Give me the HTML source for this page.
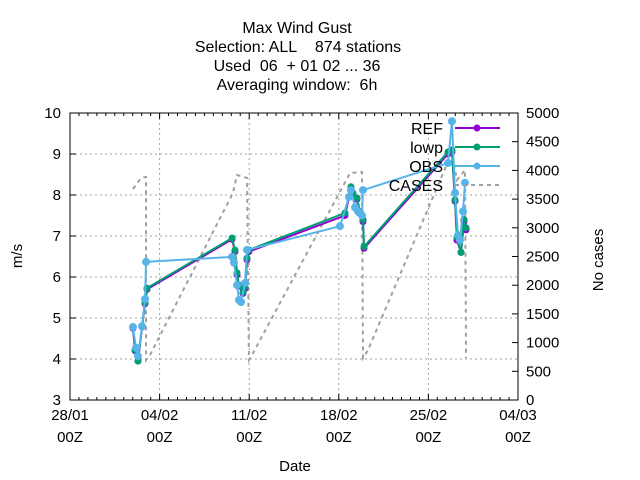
<!DOCTYPE html>
<html><head><meta charset="utf-8"><style>
body{margin:0;background:#fff}
svg{display:block;font-family:"Liberation Sans",sans-serif}
</style></head><body>
<svg id="chart" width="640" height="480">
<g id="title" font-size="16" text-anchor="middle" fill="#000">
<text x="297" y="33">Max Wind Gust</text>
<text x="298" y="52">Selection: ALL&#160;&#160;&#160;&#160;874 stations</text>
<text x="297" y="71">Used&#160;&#160;06&#160;&#160;+ 01 02 ... 36</text>
<text x="297" y="90">Averaging window:&#160;&#160;6h</text>
</g>
<text x="22" y="256" font-size="15" text-anchor="middle" transform="rotate(-90 22 256)">m/s</text>
<text x="603" y="260" font-size="15" text-anchor="middle" transform="rotate(-90 603 260)">No cases</text>
<text x="295" y="471" font-size="15" text-anchor="middle">Date</text>
<g id="grid"></g><g id="axes"></g><g id="series"></g><g id="legend"></g>
</svg>
<script>
// x values are days since 28/01 00Z
const xTickLabels=[["28/01","00Z"],["04/02","00Z"],["11/02","00Z"],["18/02","00Z"],["25/02","00Z"],["04/03","00Z"]];
const yTicks=[3,4,5,6,7,8,9,10];
const y2Ticks=[0,500,1000,1500,2000,2500,3000,3500,4000,4500,5000];
const lowpDays=[4.92,5.08,5.31,5.63,5.86,6.02,12.66,12.89,13.05,13.2,13.52,13.67,13.83,13.98,21.48,21.95,22.11,22.42,22.66,22.89,22.97,29.53,29.84,30.08,30.23,30.55,30.78,30.94];
const lowpVals=[4.78,4.22,3.95,4.8,5.37,5.73,6.95,6.66,6.1,5.8,5.63,5.76,6.46,6.66,7.56,8.2,8.05,7.93,7.6,7.4,6.74,9.05,9.1,7.88,6.97,6.6,7.4,7.2];
const refVals=[4.75,4.2,3.95,4.78,5.35,5.7,6.92,6.62,6.05,5.78,5.6,5.72,6.42,6.62,7.5,8.15,8.0,7.9,7.55,7.35,6.7,9.0,9.05,7.85,6.9,6.6,7.35,7.15];
const obsDays=[4.92,5.16,5.31,5.63,5.86,5.94,12.66,12.81,13.05,13.2,13.36,13.67,13.83,21.09,21.8,21.95,22.27,22.5,22.81,22.89,29.53,29.84,30.08,30.31,30.47,30.7,30.86];
const obsVals=[4.78,4.27,4.07,4.8,5.46,6.37,6.49,6.35,5.8,5.44,5.39,5.85,6.66,7.24,7.95,8.12,7.7,7.6,7.5,8.12,8.78,9.8,8.05,7.02,6.9,7.6,8.3];
const caseDays=[4.92,5.55,5.94,5.94,6.25,12.73,13.05,13.83,13.98,14.3,21.88,22.81,22.89,23.28,29.69,29.84,30.23,30.86,30.94];
const caseVals=[3676,3868,3885,697,784,3606,3920,3868,697,819,3955,3972,732,871,4233,4320,3833,4007,732];

const NS="http://www.w3.org/2000/svg";
const L=70,R=518,T=113,B=400;
const xs=d=>L+d*(R-L)/35;
const ys=v=>B-(v-3)*(B-T)/7;
const y2s=c=>B-c*(B-T)/5000;
function mk(parent,tag,attrs){const e=document.createElementNS(NS,tag);for(const k in attrs)e.setAttribute(k,attrs[k]);parent.appendChild(e);return e;}
const grid=document.getElementById('grid'),axes=document.getElementById('axes'),ser=document.getElementById('series'),leg=document.getElementById('legend');
yTicks.forEach((v,i)=>{
  if(i>0&&i<yTicks.length-1){const x2=v>=9?345:R;const g=mk(grid,'line',{x1:L,x2:x2,y1:ys(v),y2:ys(v),stroke:'#a0a0a0','stroke-dasharray':'2,3'});
  
  }
  const t=mk(axes,'text',{x:L-9,y:ys(v)+5,'font-size':15,'text-anchor':'end'});t.textContent=v;
  
  
  mk(axes,'line',{x1:L,x2:L+6,y1:ys(v),y2:ys(v),stroke:'#000'});
});
y2Ticks.forEach(c=>{
  const t=mk(axes,'text',{x:R+8,y:y2s(c)+5,'font-size':15});t.textContent=c;
  
  
  mk(axes,'line',{x1:R-6,x2:R,y1:y2s(c),y2:y2s(c),stroke:'#000'});
});
xTickLabels.forEach((lab,i)=>{
  const x=xs(i*7);
  if(i>0&&i<5){const g=mk(grid,'line',{x1:x,x2:x,y1:T,y2:B,stroke:'#a0a0a0','stroke-dasharray':'2,3'});
  
  }
  mk(axes,'line',{x1:x,x2:x,y1:B,y2:B-6,stroke:'#000'});
  mk(axes,'line',{x1:x,x2:x,y1:T,y2:T+6,stroke:'#000'});
  const t=mk(axes,'text',{x:x,y:420,'font-size':15,'text-anchor':'middle'});t.textContent=lab[0];
  
  
  const t2=mk(axes,'text',{x:x,y:442,'font-size':15,'text-anchor':'middle'});t2.textContent=lab[1];
  
  
  if(i<5)for(let k=1;k<10;k++){const xm=xs(i*7+k*0.7);
    mk(axes,'line',{x1:xm,x2:xm,y1:B,y2:B-3,stroke:'#000'});mk(axes,'line',{x1:xm,x2:xm,y1:T,y2:T+3,stroke:'#000'});}
});
const frame=mk(axes,'rect',{x:L,y:T,width:R-L,height:B-T,fill:'none',stroke:'#000'});


const cp=caseDays.map((d,i)=>xs(d)+','+y2s(caseVals[i])).join(' ');
const cl=mk(ser,'polyline',{points:cp,fill:'none',stroke:'#a0a0a0','stroke-width':2,'stroke-dasharray':'4,4'});


function series(days,vals,color,name,size){
  const p=days.map((d,i)=>xs(d)+','+ys(vals[i])).join(' ');
  const pl=mk(ser,'polyline',{points:p,fill:'none',stroke:color,'stroke-width':2});
  
  
  days.forEach((d,i)=>{const c=mk(ser,'circle',{cx:xs(d),cy:ys(vals[i]),r:size,fill:color});
    
    });
}
series(lowpDays,refVals,'#9400d3','ref',3.5);
series(lowpDays,lowpVals,'#009e73','lowp',3.5);
series(obsDays,obsVals,'#56b4e9','obs',4);
const legItems=[["REF",'#9400d3',128],["lowp",'#009e73',147],["OBS",'#56b4e9',166],["CASES",'#a0a0a0',185]];
legItems.forEach((it,i)=>{
  const t=mk(leg,'text',{x:443,y:it[2]+6,'font-size':16,'text-anchor':'end'});t.textContent=it[0];
  
  
  if(i<3){mk(leg,'line',{x1:455,x2:500,y1:it[2],y2:it[2],stroke:it[1],'stroke-width':2});
    mk(leg,'circle',{cx:477,cy:it[2],r:3.5,fill:it[1]});}
  else mk(leg,'line',{x1:455,x2:500,y1:it[2],y2:it[2],stroke:it[1],'stroke-width':2,'stroke-dasharray':'4,4'});
});
</script>
</body></html>
